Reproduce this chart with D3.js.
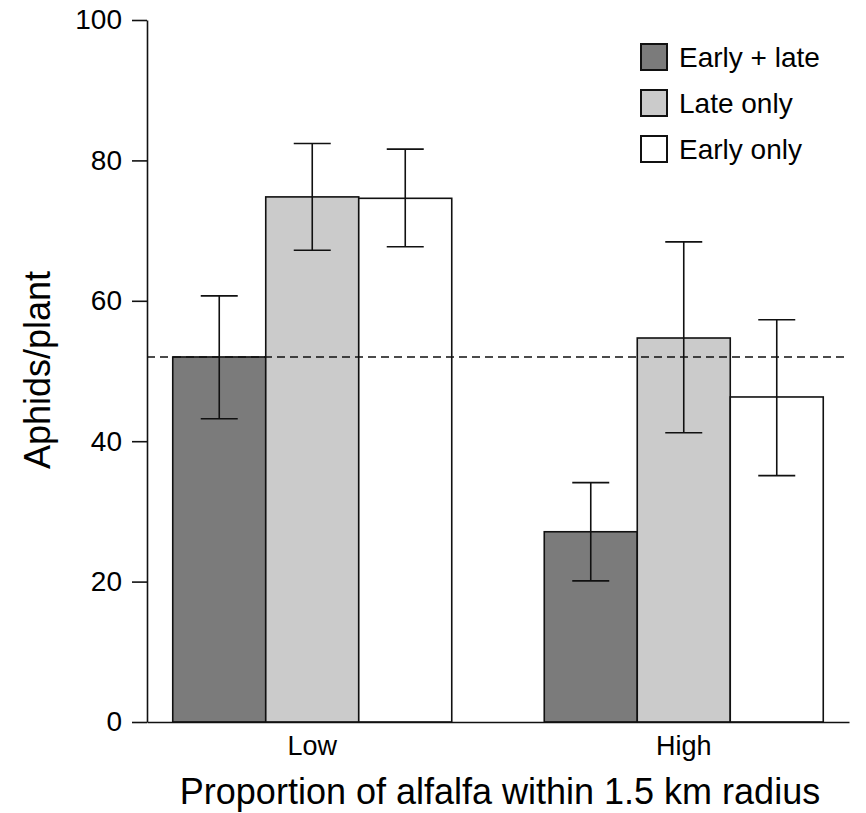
<!DOCTYPE html>
<html><head><meta charset="utf-8">
<script src="https://cdn.jsdelivr.net/npm/d3@7"></script>
<style>body{margin:0;background:#fff}text{font-family:"Liberation Sans",Arial,Helvetica,sans-serif;fill:#000}</style>
</head><body>
<script>
const categories = ["Low", "High"];
const series = ["Early + late", "Late only", "Early only"];
const colors = ["#7b7b7b", "#cbcbcb", "#ffffff"];
const means = [[52.0, 74.8, 74.6], [27.1, 54.7, 46.3]];
const upper = [[60.7, 82.4, 81.6], [34.1, 68.4, 57.3]];
const lower = [[43.2, 67.2, 67.7], [20.1, 41.2, 35.1]];
const refLine = 52.0;
const yTicks = [0, 20, 40, 60, 80, 100];

const W = 866, H = 813;
const svg = d3.select("body").append("svg").attr("width", W).attr("height", H);
const x0 = d3.scaleBand().domain(categories).range([147, 849]).paddingInner(0.249).paddingOuter(0.0693);
const x1 = d3.scaleBand().domain(series).range([0, x0.bandwidth()]);
const y = d3.scaleLinear().domain([0, 100]).range([722, 20]);

const data = [];
categories.forEach((c, i) => series.forEach((s, j) => data.push({c, s, j, m: means[i][j], hi: upper[i][j], lo: lower[i][j]})));

svg.selectAll("rect.bar").data(data).join("rect").attr("class", "bar")
  .attr("x", d => x0(d.c) + x1(d.s)).attr("width", x1.bandwidth())
  .attr("y", d => y(d.m)).attr("height", d => y(0) - y(d.m))
  .attr("fill", d => colors[d.j]).attr("stroke", "#111").attr("stroke-width", 1.6);

const eb = svg.selectAll("g.err").data(data).join("g").attr("class", "err")
  .attr("transform", d => `translate(${x0(d.c) + x1(d.s) + x1.bandwidth() / 2},0)`)
  .attr("stroke", "#111").attr("stroke-width", 1.6);
eb.append("line").attr("y1", d => y(d.hi)).attr("y2", d => y(d.lo));
eb.append("line").attr("x1", -18.5).attr("x2", 18.5).attr("y1", d => y(d.hi)).attr("y2", d => y(d.hi));
eb.append("line").attr("x1", -18.5).attr("x2", 18.5).attr("y1", d => y(d.lo)).attr("y2", d => y(d.lo));

svg.append("line").attr("x1", 147).attr("x2", 849).attr("y1", y(refLine)).attr("y2", y(refLine))
  .attr("stroke", "#111").attr("stroke-width", 1.6).attr("stroke-dasharray", "8,5");

const ya = svg.append("g").attr("transform", "translate(147,0)")
  .call(d3.axisLeft(y).tickValues(yTicks).tickSize(15).tickSizeOuter(0).tickPadding(10));
ya.selectAll("text").attr("font-size", 28).attr("font-family", null);
ya.selectAll("line,path").attr("stroke", "#111").attr("stroke-width", 1.6);

const xa = svg.append("g").attr("transform", "translate(0,722)")
  .call(d3.axisBottom(x0).tickSize(0).tickSizeOuter(0).tickPadding(14));
xa.selectAll("text").attr("font-size", 27).attr("font-family", null);
xa.selectAll("path").attr("stroke", "#111").attr("stroke-width", 1.6);

svg.append("text").attr("x", 500).attr("y", 804).attr("text-anchor", "middle").attr("font-size", 36)
  .text("Proportion of alfalfa within 1.5 km radius");
svg.append("text").attr("transform", "translate(50,370) rotate(-90)").attr("text-anchor", "middle").attr("font-size", 36)
  .text("Aphids/plant");

const lg = svg.selectAll("g.leg").data(series).join("g").attr("class", "leg")
  .attr("transform", (d, i) => `translate(641,${44 + i * 46})`);
lg.append("rect").attr("width", 26).attr("height", 26).attr("fill", (d, i) => colors[i])
  .attr("stroke", "#111").attr("stroke-width", 2);
lg.append("text").attr("x", 38).attr("y", 23).attr("font-size", 28).attr("xml:space", "preserve").text(d => d);
</script>
</body></html>
